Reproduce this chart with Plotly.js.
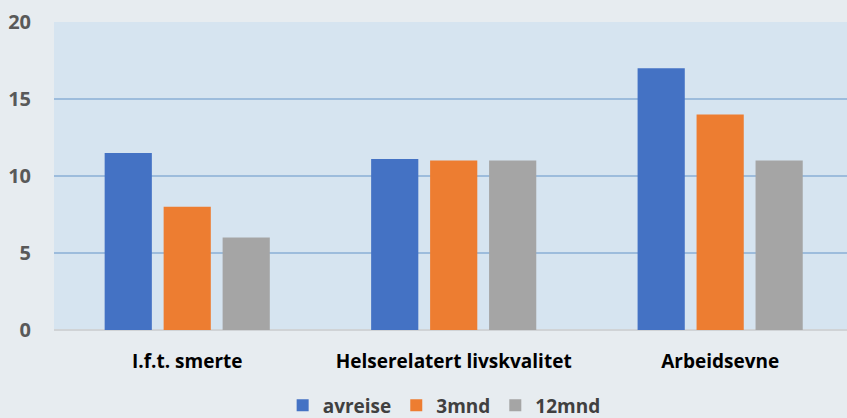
<!DOCTYPE html>
<html><head><meta charset="utf-8">
<script src="https://cdn.plot.ly/plotly-3.0.1.min.js"></script>
<style>html,body{margin:0;padding:0;background:#e7ecf0;}#chart{width:847px;height:418px;}</style>
</head><body><div id="chart"></div>
<script>
const categories = ["I.f.t. smerte", "Helserelatert livskvalitet", "Arbeidsevne"];
const seriesNames = ["avreise", "3mnd", "12mnd"];
const avreise = [11.5, 11.1, 17];
const mnd3 = [8, 11, 14];
const mnd12 = [6, 11, 11];
const colors = ["#4472C4", "#ED7D31", "#A5A5A5"];
const values = [avreise, mnd3, mnd12];
const traces = values.map((v, i) => ({
  type: "bar", x: categories, y: v, name: seriesNames[i],
  marker: {color: colors[i]}, hoverinfo: "none"
}));
const layout = {
  width: 847, height: 418,
  margin: {l: 54, r: 0, t: 22, b: 88, autoexpand: false},
  paper_bgcolor: "#e7ecf0", plot_bgcolor: "#d6e4f0",
  font: {family: "Open Sans, sans-serif", size: 18, color: "#595959"},
  barmode: "group", bargap: 0.336, bargroupgap: 0.2,
  showlegend: true,
  legend: {orientation: "h", x: 0.492, xanchor: "center", y: -0.245, yanchor: "middle",
    font: {size: 19, color: "#404040", weight: "bold"}, tracegroupgap: 0, itemwidth: 30},
  xaxis: {range: [-0.5, 2.476], showgrid: false, ticks: "", showline: false, automargin: false,
    tickfont: {size: 19, color: "#000000", weight: "bold"}, ticklabelstandoff: 18},
  yaxis: {range: [0, 20], tickvals: [0, 5, 10, 15, 20], gridcolor: "#9dbcdc", gridwidth: 1.5,
    zeroline: true, zerolinecolor: "#d0d3d6", zerolinewidth: 2, ticks: "", showline: false, automargin: false,
    tickfont: {size: 20, color: "#595959", weight: "bold"}, ticklabelstandoff: 22}
};
Plotly.newPlot("chart", traces, layout, {displayModeBar: false, staticPlot: true});
</script></body></html>
